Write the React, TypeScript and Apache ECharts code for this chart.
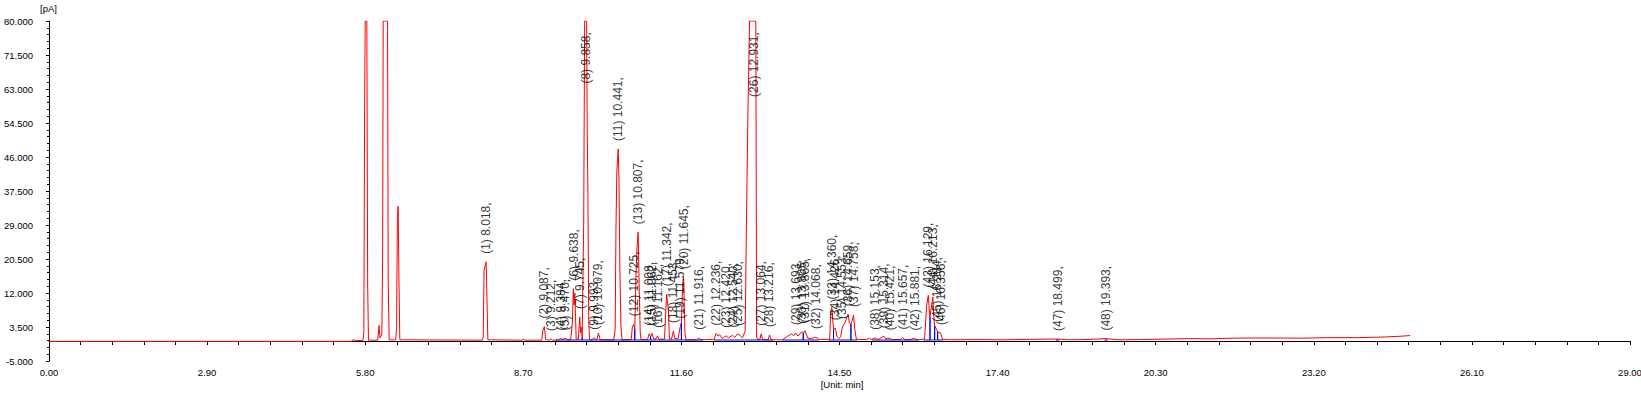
import React, { useEffect, useRef } from "react";
import * as echarts from "echarts";

// ---- Data ----
const xTickInterval = 2.9; // min
const yTickInterval = 8.5; // pA

// retention times of labelled peaks (min)
const peakTimes = [
  8.018, 9.087, 9.212, 9.384, 9.47, 9.638, 9.745, 9.858, 9.993, 10.079, 10.441, 10.725,
  10.807, 11.008, 11.062, 11.162, 11.342, 11.453, 11.579, 11.645, 11.916, 12.236, 12.42,
  12.54, 12.63, 12.931, 13.064, 13.216, 13.693, 13.805, 13.865, 14.068, 14.36, 14.426,
  14.553, 14.659, 14.758, 15.153, 15.314, 15.421, 15.657, 15.881, 16.129, 16.213, 16.284,
  16.356, 18.499, 19.393,
];
// apex heights of the labelled peaks (pA); 80 = off scale
const peakHeights = [
  19.8, 3.6, 0.5, 0.6, 0.7, 13.1, 6.0, 80, 0.8, 2.0, 48.0, 4.2, 27.2, 1.8, 1.9, 1.3, 11.7,
  2.5, 3.6, 16.0, 0.8, 1.9, 1.3, 1.4, 1.8, 80, 1.8, 1.5, 2.0, 2.3, 2.6, 1.0, 8.4, 3.2, 3.5,
  6.7, 6.5, 0.8, 1.2, 0.7, 0.9, 0.6, 11.4, 11.0, 2.8, 2.0, 0.5, 0.6,
];

// detector signal (red trace): [time min, signal pA]
const signal: [number, number][] = [
  [0, -0.1], [5.55, -0.1], [5.58, 0.4], [5.62, 0.1], [5.76, 0.15], [5.775, 2.3], [5.79, 59.6],
  [5.8, 80], [5.83, 80], [5.845, 14.5], [5.86, 0.2],
  [6.03, 0.2], [6.055, 3.9], [6.07, 0.8], [6.105, 1.5], [6.12, 21.5], [6.13, 80], [6.21, 80],
  [6.222, 14.5], [6.24, 0.3],
  [6.36, 0.3], [6.376, 3.4], [6.39, 30.7], [6.405, 33.7], [6.418, 16.5], [6.435, 0.3],
  [7.95, 0.2], [7.965, 1.0], [7.98, 17.7], [8.018, 19.8], [8.03, 12.5], [8.05, 0.3],
  [8.68, 0.2], [8.7, 0.5], [8.72, 0.2],
  [9.04, 0.2], [9.06, 2.8], [9.087, 3.6], [9.11, 0.3],
  [9.18, 0.2], [9.212, 0.5], [9.24, 0.2],
  [9.34, 0.25], [9.384, 0.6], [9.43, 0.45], [9.47, 0.7], [9.52, 0.3],
  [9.57, 0.4], [9.6, 4.5], [9.618, 13.1], [9.63, 9.0], [9.645, 12.0], [9.67, 0.5],
  [9.71, 0.5], [9.735, 6.0], [9.75, 2.0], [9.765, 3.5], [9.78, 1.0],
  [9.808, 29.8], [9.825, 80], [9.862, 80], [9.872, 53], [9.885, 38], [9.9, 5], [9.915, 0.4],
  [9.96, 0.3], [9.993, 0.8], [10.02, 0.4],
  [10.05, 0.4], [10.079, 2.0], [10.11, 0.3],
  [10.36, 0.3], [10.385, 3.0], [10.4, 28], [10.415, 42.3], [10.441, 48.0], [10.455, 40],
  [10.47, 20], [10.49, 4], [10.51, 0.3],
  [10.68, 0.4], [10.7, 3.5], [10.725, 4.2], [10.745, 3.0],
  [10.77, 18], [10.787, 23.5], [10.807, 27.2], [10.825, 14], [10.845, 2], [10.86, 0.4],
  [10.98, 0.4], [11.008, 1.8], [11.035, 1.1], [11.062, 1.9], [11.09, 0.5], [11.13, 0.5],
  [11.162, 1.3], [11.19, 0.4],
  [11.29, 0.5], [11.315, 8], [11.33, 11.7], [11.345, 9.5], [11.36, 8], [11.38, 0.6],
  [11.42, 0.5], [11.453, 2.5], [11.48, 0.6],
  [11.54, 0.6], [11.579, 3.6], [11.6, 4.5], [11.625, 14.5], [11.64, 16.0], [11.665, 2],
  [11.685, 0.3],
  [11.88, 0.3], [11.916, 0.8], [11.95, 0.3],
  [12.2, 0.4], [12.236, 1.9], [12.27, 1.2], [12.3, 1.6], [12.35, 0.6], [12.42, 1.3],
  [12.46, 0.8], [12.54, 1.4], [12.58, 0.9], [12.63, 1.8], [12.68, 1.3], [12.72, 0.8],
  [12.77, 2.5], [12.795, 32], [12.82, 56.5], [12.85, 80], [12.965, 80], [12.98, 1.0], [13.0, 0.4],
  [13.04, 0.4], [13.064, 1.8], [13.09, 0.4],
  [13.19, 0.3], [13.216, 1.5], [13.25, 0.3],
  [13.45, 0.3], [13.55, 1.2], [13.62, 1.8], [13.66, 1.3], [13.693, 2.0], [13.74, 1.2],
  [13.805, 2.3], [13.835, 1.9], [13.865, 2.6], [13.92, 0.7], [13.98, 0.6], [14.068, 1.0],
  [14.12, 0.4],
  [14.32, 0.4], [14.34, 7.5], [14.36, 8.4], [14.375, 5.5], [14.39, 3.0], [14.426, 3.2],
  [14.45, 1.2], [14.49, 0.6], [14.52, 1.0], [14.553, 3.5], [14.6, 4.5], [14.635, 6.0],
  [14.659, 6.7], [14.68, 4.5], [14.71, 4.2], [14.74, 5.5], [14.758, 6.5], [14.78, 3], [14.81, 0.4],
  [15.0, 0.35], [15.05, 0.7], [15.09, 0.35], [15.153, 0.8], [15.2, 0.3], [15.314, 1.2],
  [15.35, 0.5], [15.421, 0.7], [15.47, 0.3], [15.62, 0.4], [15.657, 0.9], [15.7, 0.3],
  [15.8, 0.4], [15.85, 0.6], [15.881, 0.6], [15.93, 0.3],
  [16.06, 0.5], [16.1, 9], [16.129, 11.4], [16.145, 8], [16.16, 6.0], [16.19, 9], [16.213, 11.0],
  [16.23, 6], [16.245, 3.8], [16.284, 2.8], [16.3, 2.3], [16.356, 2.0], [16.39, 0.4],
  [16.5, 0.3], [17.0, 0.35], [17.5, 0.3], [18.0, 0.4], [18.499, 0.5], [18.7, 0.3], [19.0, 0.35],
  [19.393, 0.6], [19.6, 0.3], [20.0, 0.35], [20.9, 0.6], [21.3, 0.55], [21.7, 0.7], [22.0, 0.75],
  [22.5, 0.75], [23.0, 0.7], [23.5, 0.85], [24.0, 0.85], [24.5, 1.0], [24.8, 1.2], [24.97, 1.35],
];

// integration baselines (blue): segments [start, end] and drop lines [time, height]
const baselineLevel = 0.25;
const baselineSegments: [number, number][] = [
  [9.3, 12.0], [12.2, 13.28], [13.45, 14.12], [14.3, 14.82], [15.1, 15.95], [16.04, 16.4],
  [18.47, 18.53], [19.36, 19.42],
];
const dropLines: [number, number][] = [
  [9.78, 1.0], [10.745, 3.0], [11.035, 1.1], [11.6, 4.5], [13.835, 1.9], [14.39, 3.0],
  [14.71, 4.2], [16.16, 6.0], [16.245, 3.8], [16.3, 2.3],
];

const FONT = "'Liberation Sans', Arial, sans-serif";

export default function App() {
  const ref = useRef<HTMLDivElement>(null);
  useEffect(() => {
    if (!ref.current) return;
    const chart = echarts.init(ref.current, undefined, { renderer: "svg" });

    const blueSeries = baselineSegments.map(([s, e]) => {
      const pts: [number, number][] = [[s, baselineLevel]];
      dropLines
        .filter(([t]) => t > s && t < e)
        .forEach(([t, h]) => {
          pts.push([t, baselineLevel], [t, h], [t, baselineLevel]);
        });
      pts.push([e, baselineLevel]);
      return {
        type: "line",
        data: pts,
        showSymbol: false,
        symbol: "none",
        lineStyle: { color: "#0000ff", width: 1 },
        z: 3,
        silent: true,
      };
    });

    const labelData = peakTimes.map((t, i) => {
      const h = peakHeights[i];
      const clipped = h >= 80;
      return {
        value: [t, clipped ? 77.2 : h],
        label: {
          show: true,
          position: "top",
          distance: clipped ? 0 : 8,
          rotate: 90,
          align: clipped ? "right" : "left",
          verticalAlign: "middle",
          formatter: `(${i + 1}) ${t.toFixed(3)},`,
          fontSize: 12,
          fontFamily: FONT,
          color: "#000",
        },
      };
    });

    chart.setOption({
      animation: false,
      backgroundColor: "#fff",
      grid: {
        left: 49,
        right: 11,
        top: 21,
        bottom: 34,
        containLabel: false,
        outerBoundsMode: "none",
      },
      xAxis: {
        type: "value",
        min: 0,
        max: 29,
        interval: xTickInterval,
        axisLine: { show: true, lineStyle: { color: "#000", width: 1 } },
        axisTick: { show: true, length: 4, lineStyle: { color: "#000" } },
        minorTick: { show: true, splitNumber: 5, length: 4, lineStyle: { color: "#000" } },
        splitLine: { show: false },
        minorSplitLine: { show: false },
        axisLabel: {
          formatter: (v: number) => v.toFixed(2),
          fontSize: 9.5,
          fontFamily: FONT,
          color: "#000",
          margin: 6,
        },
      },
      yAxis: {
        type: "value",
        min: -5,
        max: 80,
        interval: yTickInterval,
        axisLine: { show: true, lineStyle: { color: "#000", width: 1 } },
        axisTick: { show: true, length: 3, lineStyle: { color: "#000" } },
        minorTick: { show: true, splitNumber: 5, length: 2, lineStyle: { color: "#000" } },
        splitLine: { show: false },
        minorSplitLine: { show: false },
        axisLabel: {
          formatter: (v: number) => v.toFixed(3),
          fontSize: 9.5,
          fontFamily: FONT,
          color: "#000",
          margin: 16,
        },
      },
      graphic: [
        {
          type: "text",
          left: 40,
          top: 3,
          style: { text: "[pA]", fontSize: 9.5, fontFamily: FONT, fill: "#000" },
        },
        {
          type: "text",
          x: 842,
          y: 384,
          style: {
            text: "[Unit: min]",
            fontSize: 9.5,
            fontFamily: FONT,
            fill: "#000",
            align: "center",
            verticalAlign: "middle",
          },
        },
      ],
      series: [
        {
          type: "line",
          data: signal,
          showSymbol: false,
          symbol: "none",
          lineStyle: { color: "#ff0000", width: 1 },
          z: 2,
          silent: true,
        },
        ...blueSeries,
        {
          type: "scatter",
          data: labelData,
          symbolSize: 0,
          z: 5,
          silent: true,
        },
      ],
    });
    return () => chart.dispose();
  }, []);

  return (
    <div
      ref={ref}
      style={{ position: "absolute", left: 0, top: 0, width: 1641, height: 395, background: "#fff" }}
    />
  );
}
